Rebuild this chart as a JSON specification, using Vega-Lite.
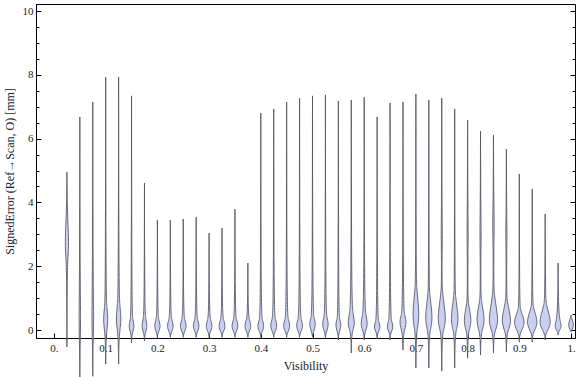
{
  "$schema": "https://vega.github.io/schema/vega-lite/v6.json",
  "width": 539,
  "height": 334,
  "autosize": "none",
  "padding": {"left": 36, "top": 4, "right": 1, "bottom": 39},
  "background": "white",
  "config": {
    "view": {"stroke": "#000", "strokeWidth": 1},
    "axis": {
      "labelFont": "Liberation Serif",
      "titleFont": "Liberation Serif",
      "labelFontSize": 11,
      "titleFontSize": 12,
      "titleFontWeight": "normal",
      "labelColor": "#222",
      "titleColor": "#222",
      "domainColor": "#000",
      "tickColor": "#000",
      "grid": false
    }
  },
  "data": {
    "values": [
      {"v":0.025,"e":-0.53,"w":0},{"v":0.025,"e":1.9,"w":0.0005},{"v":0.025,"e":2.3,"w":0.0022},{"v":0.025,"e":2.75,"w":0.0036},{"v":0.025,"e":3.35,"w":0.0019},{"v":0.025,"e":4.0,"w":0.0005},{"v":0.025,"e":4.95,"w":0},
      {"v":0.05,"e":-1.5,"w":0},{"v":0.05,"e":-0.5,"w":0.0005},{"v":0.05,"e":0.3,"w":0.0018},{"v":0.05,"e":1.3,"w":0.0006},{"v":0.05,"e":6.68,"w":0},
      {"v":0.075,"e":-1.45,"w":0},{"v":0.075,"e":-0.4,"w":0.0005},{"v":0.075,"e":0.35,"w":0.0021},{"v":0.075,"e":1.2,"w":0.0006},{"v":0.075,"e":7.15,"w":0},
      {"v":0.1,"e":-1.07,"w":0},{"v":0.1,"e":-0.25,"w":0.0006},{"v":0.1,"e":0.1,"w":0.0032},{"v":0.1,"e":0.35,"w":0.0045},{"v":0.1,"e":0.7,"w":0.0024},{"v":0.1,"e":1.0,"w":0.0005},{"v":0.1,"e":7.93,"w":0},
      {"v":0.125,"e":-1.07,"w":0},{"v":0.125,"e":-0.25,"w":0.0006},{"v":0.125,"e":0.1,"w":0.0034},{"v":0.125,"e":0.35,"w":0.0049},{"v":0.125,"e":0.75,"w":0.0026},{"v":0.125,"e":1.15,"w":0.0005},{"v":0.125,"e":7.93,"w":0},
      {"v":0.15,"e":-0.41,"w":0},{"v":0.15,"e":-0.15,"w":0.0006},{"v":0.15,"e":0.0,"w":0.0037},{"v":0.15,"e":0.14,"w":0.0051},{"v":0.15,"e":0.33,"w":0.0027},{"v":0.15,"e":0.53,"w":0.0005},{"v":0.15,"e":7.34,"w":0},
      {"v":0.175,"e":-0.34,"w":0},{"v":0.175,"e":-0.15,"w":0.0006},{"v":0.175,"e":0.0,"w":0.0037},{"v":0.175,"e":0.15,"w":0.0051},{"v":0.175,"e":0.35,"w":0.0027},{"v":0.175,"e":0.55,"w":0.0005},{"v":0.175,"e":4.61,"w":0},
      {"v":0.2,"e":-0.25,"w":0},{"v":0.2,"e":-0.12,"w":0.0006},{"v":0.2,"e":0.01,"w":0.0041},{"v":0.2,"e":0.14,"w":0.0058},{"v":0.2,"e":0.3,"w":0.0031},{"v":0.2,"e":0.48,"w":0.0005},{"v":0.2,"e":3.45,"w":0},
      {"v":0.225,"e":-0.23,"w":0},{"v":0.225,"e":-0.12,"w":0.0006},{"v":0.225,"e":0.01,"w":0.0043},{"v":0.225,"e":0.14,"w":0.0062},{"v":0.225,"e":0.3,"w":0.0033},{"v":0.225,"e":0.48,"w":0.0005},{"v":0.225,"e":3.45,"w":0},
      {"v":0.25,"e":-0.23,"w":0},{"v":0.25,"e":-0.12,"w":0.0006},{"v":0.25,"e":0.01,"w":0.0043},{"v":0.25,"e":0.14,"w":0.0062},{"v":0.25,"e":0.3,"w":0.0033},{"v":0.25,"e":0.48,"w":0.0005},{"v":0.25,"e":3.48,"w":0},
      {"v":0.275,"e":-0.23,"w":0},{"v":0.275,"e":-0.12,"w":0.0006},{"v":0.275,"e":0.01,"w":0.0043},{"v":0.275,"e":0.14,"w":0.0062},{"v":0.275,"e":0.3,"w":0.0033},{"v":0.275,"e":0.48,"w":0.0005},{"v":0.275,"e":3.54,"w":0},
      {"v":0.3,"e":-0.23,"w":0},{"v":0.3,"e":-0.12,"w":0.0006},{"v":0.3,"e":0.01,"w":0.0043},{"v":0.3,"e":0.14,"w":0.0062},{"v":0.3,"e":0.3,"w":0.0033},{"v":0.3,"e":0.48,"w":0.0005},{"v":0.3,"e":3.04,"w":0},
      {"v":0.325,"e":-0.23,"w":0},{"v":0.325,"e":-0.12,"w":0.0006},{"v":0.325,"e":0.01,"w":0.0045},{"v":0.325,"e":0.14,"w":0.0064},{"v":0.325,"e":0.3,"w":0.0034},{"v":0.325,"e":0.48,"w":0.0005},{"v":0.325,"e":3.2,"w":0},
      {"v":0.35,"e":-0.23,"w":0},{"v":0.35,"e":-0.12,"w":0.0006},{"v":0.35,"e":0.01,"w":0.0045},{"v":0.35,"e":0.14,"w":0.0064},{"v":0.35,"e":0.3,"w":0.0034},{"v":0.35,"e":0.48,"w":0.0005},{"v":0.35,"e":3.79,"w":0},
      {"v":0.375,"e":-0.23,"w":0},{"v":0.375,"e":-0.12,"w":0.0006},{"v":0.375,"e":0.01,"w":0.0045},{"v":0.375,"e":0.14,"w":0.0064},{"v":0.375,"e":0.3,"w":0.0034},{"v":0.375,"e":0.48,"w":0.0005},{"v":0.375,"e":2.1,"w":0},
      {"v":0.4,"e":-0.23,"w":0},{"v":0.4,"e":-0.12,"w":0.0006},{"v":0.4,"e":0.01,"w":0.0045},{"v":0.4,"e":0.14,"w":0.0064},{"v":0.4,"e":0.3,"w":0.0034},{"v":0.4,"e":0.48,"w":0.0005},{"v":0.4,"e":6.8,"w":0},
      {"v":0.425,"e":-0.23,"w":0},{"v":0.425,"e":-0.12,"w":0.0006},{"v":0.425,"e":0.01,"w":0.0046},{"v":0.425,"e":0.15,"w":0.0066},{"v":0.425,"e":0.32,"w":0.0035},{"v":0.425,"e":0.52,"w":0.0005},{"v":0.425,"e":6.93,"w":0},
      {"v":0.45,"e":-0.23,"w":0},{"v":0.45,"e":-0.12,"w":0.0006},{"v":0.45,"e":0.01,"w":0.0046},{"v":0.45,"e":0.15,"w":0.0066},{"v":0.45,"e":0.32,"w":0.0035},{"v":0.45,"e":0.52,"w":0.0005},{"v":0.45,"e":7.15,"w":0},
      {"v":0.475,"e":-0.23,"w":0},{"v":0.475,"e":-0.12,"w":0.0006},{"v":0.475,"e":0.01,"w":0.0045},{"v":0.475,"e":0.15,"w":0.0064},{"v":0.475,"e":0.32,"w":0.0034},{"v":0.475,"e":0.52,"w":0.0005},{"v":0.475,"e":7.27,"w":0},
      {"v":0.5,"e":-0.22,"w":0},{"v":0.5,"e":-0.12,"w":0.0006},{"v":0.5,"e":0.04,"w":0.0042},{"v":0.5,"e":0.2,"w":0.006},{"v":0.5,"e":0.36,"w":0.0032},{"v":0.5,"e":0.56,"w":0.0005},{"v":0.5,"e":7.34,"w":0},
      {"v":0.525,"e":-0.25,"w":0},{"v":0.525,"e":-0.12,"w":0.0006},{"v":0.525,"e":0.04,"w":0.0042},{"v":0.525,"e":0.2,"w":0.006},{"v":0.525,"e":0.38,"w":0.0032},{"v":0.525,"e":0.6,"w":0.0005},{"v":0.525,"e":7.37,"w":0},
      {"v":0.55,"e":-0.31,"w":0},{"v":0.55,"e":-0.12,"w":0.0006},{"v":0.55,"e":0.03,"w":0.0038},{"v":0.55,"e":0.18,"w":0.0053},{"v":0.55,"e":0.33,"w":0.0028},{"v":0.55,"e":0.5,"w":0.0005},{"v":0.55,"e":7.18,"w":0},
      {"v":0.575,"e":-0.72,"w":0},{"v":0.575,"e":-0.13,"w":0.0006},{"v":0.575,"e":0.06,"w":0.0046},{"v":0.575,"e":0.25,"w":0.0066},{"v":0.575,"e":0.5,"w":0.0036},{"v":0.575,"e":0.85,"w":0.0005},{"v":0.575,"e":7.21,"w":0},
      {"v":0.6,"e":-0.31,"w":0},{"v":0.6,"e":-0.12,"w":0.0006},{"v":0.6,"e":0.05,"w":0.0046},{"v":0.6,"e":0.22,"w":0.0066},{"v":0.6,"e":0.45,"w":0.0036},{"v":0.6,"e":0.75,"w":0.0005},{"v":0.6,"e":7.3,"w":0},
      {"v":0.625,"e":-0.28,"w":0},{"v":0.625,"e":-0.12,"w":0.0006},{"v":0.625,"e":0.0,"w":0.0042},{"v":0.625,"e":0.12,"w":0.006},{"v":0.625,"e":0.26,"w":0.0032},{"v":0.625,"e":0.42,"w":0.0005},{"v":0.625,"e":6.68,"w":0},
      {"v":0.65,"e":-0.31,"w":0},{"v":0.65,"e":-0.12,"w":0.0006},{"v":0.65,"e":0.0,"w":0.0042},{"v":0.65,"e":0.12,"w":0.006},{"v":0.65,"e":0.27,"w":0.0032},{"v":0.65,"e":0.45,"w":0.0005},{"v":0.65,"e":7.12,"w":0},
      {"v":0.675,"e":-0.63,"w":0},{"v":0.675,"e":-0.13,"w":0.0006},{"v":0.675,"e":0.08,"w":0.0046},{"v":0.675,"e":0.28,"w":0.0066},{"v":0.675,"e":0.45,"w":0.0036},{"v":0.675,"e":0.65,"w":0.0005},{"v":0.675,"e":7.15,"w":0},
      {"v":0.7,"e":-1.19,"w":0},{"v":0.7,"e":-0.12,"w":0.0008},{"v":0.7,"e":0.1,"w":0.0038},{"v":0.7,"e":0.5,"w":0.0064},{"v":0.7,"e":0.94,"w":0.0038},{"v":0.7,"e":1.33,"w":0.0016},{"v":0.7,"e":1.6,"w":0.0005},{"v":0.7,"e":7.4,"w":0},
      {"v":0.725,"e":-1.19,"w":0},{"v":0.725,"e":-0.12,"w":0.0008},{"v":0.725,"e":0.05,"w":0.0041},{"v":0.725,"e":0.4,"w":0.007},{"v":0.725,"e":0.8,"w":0.0041},{"v":0.725,"e":1.15,"w":0.0017},{"v":0.725,"e":1.4,"w":0.0005},{"v":0.725,"e":7.21,"w":0},
      {"v":0.75,"e":-1.29,"w":0},{"v":0.75,"e":-0.12,"w":0.0008},{"v":0.75,"e":0.05,"w":0.0047},{"v":0.75,"e":0.35,"w":0.0079},{"v":0.75,"e":0.77,"w":0.0047},{"v":0.75,"e":1.14,"w":0.0019},{"v":0.75,"e":1.4,"w":0.0005},{"v":0.75,"e":2.4,"w":0.0005},{"v":0.75,"e":3.0,"w":0.0013},{"v":0.75,"e":3.6,"w":0.0005},{"v":0.75,"e":7.27,"w":0},
      {"v":0.775,"e":-1.19,"w":0},{"v":0.775,"e":-0.12,"w":0.0008},{"v":0.775,"e":0.05,"w":0.0044},{"v":0.775,"e":0.35,"w":0.0073},{"v":0.775,"e":0.73,"w":0.0044},{"v":0.775,"e":1.06,"w":0.0018},{"v":0.775,"e":1.3,"w":0.0005},{"v":0.775,"e":6.93,"w":0},
      {"v":0.8,"e":-0.88,"w":0},{"v":0.8,"e":-0.12,"w":0.0008},{"v":0.8,"e":0.05,"w":0.0044},{"v":0.8,"e":0.3,"w":0.0073},{"v":0.8,"e":0.58,"w":0.0044},{"v":0.8,"e":0.83,"w":0.0018},{"v":0.8,"e":1.0,"w":0.0005},{"v":0.8,"e":2.4,"w":0.0005},{"v":0.8,"e":3.0,"w":0.0014},{"v":0.8,"e":3.7,"w":0.0005},{"v":0.8,"e":6.58,"w":0},
      {"v":0.825,"e":-0.78,"w":0},{"v":0.825,"e":-0.12,"w":0.0008},{"v":0.825,"e":0.05,"w":0.0047},{"v":0.825,"e":0.33,"w":0.0079},{"v":0.825,"e":0.64,"w":0.0047},{"v":0.825,"e":0.91,"w":0.0019},{"v":0.825,"e":1.1,"w":0.0005},{"v":0.825,"e":2.3,"w":0.0005},{"v":0.825,"e":3.0,"w":0.0014},{"v":0.825,"e":3.8,"w":0.0005},{"v":0.825,"e":6.24,"w":0},
      {"v":0.85,"e":-0.72,"w":0},{"v":0.85,"e":-0.12,"w":0.0008},{"v":0.85,"e":0.05,"w":0.0055},{"v":0.85,"e":0.3,"w":0.0092},{"v":0.85,"e":0.7,"w":0.0055},{"v":0.85,"e":1.05,"w":0.0023},{"v":0.85,"e":1.3,"w":0.0005},{"v":0.85,"e":2.6,"w":0.0006},{"v":0.85,"e":3.3,"w":0.0017},{"v":0.85,"e":4.0,"w":0.0005},{"v":0.85,"e":6.11,"w":0},
      {"v":0.875,"e":-0.69,"w":0},{"v":0.875,"e":-0.12,"w":0.0008},{"v":0.875,"e":0.05,"w":0.0055},{"v":0.875,"e":0.3,"w":0.0092},{"v":0.875,"e":0.6,"w":0.0055},{"v":0.875,"e":0.86,"w":0.0023},{"v":0.875,"e":1.05,"w":0.0005},{"v":0.875,"e":2.5,"w":0.0005},{"v":0.875,"e":3.0,"w":0.0015},{"v":0.875,"e":3.5,"w":0.0005},{"v":0.875,"e":5.67,"w":0},
      {"v":0.9,"e":-0.38,"w":0},{"v":0.9,"e":-0.12,"w":0.0008},{"v":0.9,"e":0.04,"w":0.0064},{"v":0.9,"e":0.25,"w":0.0106},{"v":0.9,"e":0.45,"w":0.0064},{"v":0.9,"e":0.63,"w":0.0026},{"v":0.9,"e":0.75,"w":0.0005},{"v":0.9,"e":4.89,"w":0},
      {"v":0.925,"e":-0.38,"w":0},{"v":0.925,"e":-0.12,"w":0.0008},{"v":0.925,"e":0.04,"w":0.0064},{"v":0.925,"e":0.25,"w":0.0106},{"v":0.925,"e":0.49,"w":0.0064},{"v":0.925,"e":0.7,"w":0.0026},{"v":0.925,"e":0.85,"w":0.0005},{"v":0.925,"e":4.42,"w":0},
      {"v":0.95,"e":-0.31,"w":0},{"v":0.95,"e":-0.12,"w":0.0008},{"v":0.95,"e":0.04,"w":0.0068},{"v":0.95,"e":0.25,"w":0.0113},{"v":0.95,"e":0.53,"w":0.0068},{"v":0.95,"e":0.78,"w":0.0028},{"v":0.95,"e":0.95,"w":0.0005},{"v":0.95,"e":3.64,"w":0},
      {"v":0.975,"e":-0.16,"w":0},{"v":0.975,"e":-0.06,"w":0.0006},{"v":0.975,"e":0.13,"w":0.0082},{"v":0.975,"e":0.34,"w":0.0006},{"v":0.975,"e":2.1,"w":0},
      {"v":1.0,"e":-0.06,"w":0},{"v":1.0,"e":-0.03,"w":0.0006},{"v":1.0,"e":0.16,"w":0.0066},{"v":1.0,"e":0.38,"w":0.0006},{"v":1.0,"e":0.47,"w":0}
    ]
  },
  "transform": [
    {"calculate": "datum.v - datum.w", "as": "lo"},
    {"calculate": "datum.v + datum.w", "as": "hi"}
  ],
  "layer": [
    {
      "mark": {"type": "area", "orient": "horizontal", "interpolate": "basis", "fill": "#c9d0f4", "stroke": "#55555f", "strokeWidth": 1, "strokeOpacity": 0.85, "clip": false},
      "encoding": {
        "y": {
          "field": "e", "type": "quantitative",
          "scale": {"domain": [-0.25, 10.22], "nice": false, "zero": false},
          "axis": {
            "orient": "left",
            "title": "SignedError (Ref→Scan, O) [mm]",
            "values": [0,0.5,1,1.5,2,2.5,3,3.5,4,4.5,5,5.5,6,6.5,7,7.5,8,8.5,9,9.5,10],
            "labelExpr": "datum.value % 2 === 0 ? format(datum.value, 'd') : ''",
            "tickSize": {"condition": {"test": "datum.value % 2 === 0", "value": -5}, "value": -3},
            "labelPadding": 8,
            "titleX": -20,
            "titleY": 167,
            "titleAngle": -90,
            "titleBaseline": "bottom",
            "titleAlign": "center"
          }
        },
        "x": {
          "field": "lo", "type": "quantitative",
          "scale": {"domain": [-0.0348, 1.0077], "nice": false, "zero": false},
          "axis": {
            "orient": "bottom",
            "title": "Visibility",
            "values": [0,0.1,0.2,0.3,0.4,0.5,0.6,0.7,0.8,0.9,1],
            "labelExpr": "datum.value === 0 ? '0.' : (datum.value === 1 ? '1.' : format(datum.value, '.1f'))",
            "tickSize": -5,
            "labelPadding": 9,
            "titleX": 269.5,
            "titleY": 22,
            "titleBaseline": "top",
            "titleAlign": "center"
          }
        },
        "x2": {"field": "hi"},
        "detail": {"field": "v", "type": "nominal"}
      }
    },
    {
      "mark": {"type": "point", "opacity": 0},
      "encoding": {
        "y": {
          "field": "e", "type": "quantitative",
          "axis": {
            "orient": "right", "title": null, "labels": false, "domain": false,
            "values": [0,0.5,1,1.5,2,2.5,3,3.5,4,4.5,5,5.5,6,6.5,7,7.5,8,8.5,9,9.5,10],
            "tickSize": {"condition": {"test": "datum.value % 2 === 0", "value": -5}, "value": -3}
          }
        },
        "x": {"field": "v", "type": "quantitative", "axis": null}
      }
    }
  ],
  "resolve": {"axis": {"x": "independent", "y": "independent"}}
}
